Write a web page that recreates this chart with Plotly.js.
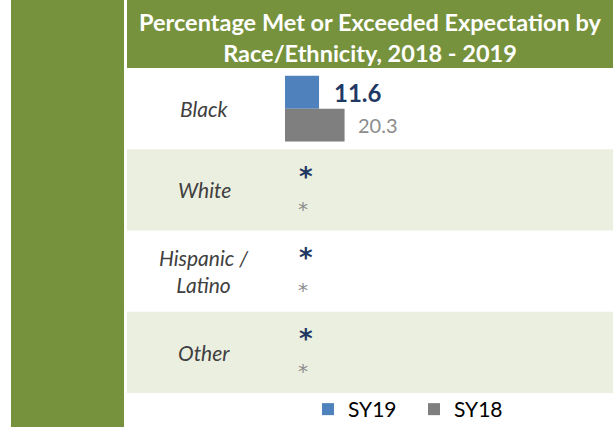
<!DOCTYPE html>
<html>
<head>
<meta charset="utf-8">
<script src="https://cdn.plot.ly/plotly-3.0.1.min.js"></script>
<style>html,body{margin:0;padding:0;background:#fff;}#chart{width:613px;height:427px;}</style>
</head>
<body>
<div id="chart"></div>
<script>
// ---- data ----
const categories = ['Black', 'White', 'Hispanic / Latino', 'Other'];
const categoryLabels = ['Black', 'White', 'Hispanic /<br>Latino', 'Other'];
const seriesNames = ['SY19', 'SY18'];
const sy19 = [11.6, null, null, null];
const sy18 = [20.3, null, null, null];
const sy19Labels = ['11.6', '*', '*', '*'];
const sy18Labels = ['20.3', '*', '*', '*'];
const titleText = 'Percentage Met or Exceeded Expectation by<br>Race/Ethnicity, 2018 - 2019';

// ---- style ----
const W = 613, H = 427;
const plotL = 285, plotR = 613, plotT = 68, plotB = 393;
const pw = plotR - plotL, ph = plotB - plotT;
const px = v => (v - plotL) / pw;     // pixel x -> paper x
const py = v => (plotB - v) / ph;     // pixel y -> paper y
const green = '#76923C', band = '#EBEFE0', blue = '#4F81BD', gray = '#7F7F7F';
const navy = '#1F3864', grayText = '#8C8C8C', labelColor = '#404040';
const FONT = 'Lato, "Open Sans", sans-serif';
const STAR_FONT = '"DejaVu Sans", sans-serif';

const traces = [
  {type: 'bar', orientation: 'h', name: seriesNames[0], y: categories, x: sy19,
   marker: {color: blue}, hoverinfo: 'skip'},
  {type: 'bar', orientation: 'h', name: seriesNames[1], y: categories, x: sy18,
   marker: {color: gray}, hoverinfo: 'skip'}
];

const shapes = [
  // left green strip
  {type: 'rect', xref: 'paper', yref: 'paper', x0: px(11), x1: px(124), y0: py(427), y1: py(0),
   fillcolor: green, line: {width: 0}, layer: 'below'},
  // title banner
  {type: 'rect', xref: 'paper', yref: 'paper', x0: px(127), x1: 1, y0: 1, y1: py(0),
   fillcolor: green, line: {width: 0}, layer: 'below'}
];
// alternating bands on rows 2 and 4
categories.forEach((c, i) => {
  if (i % 2 === 1) {
    shapes.push({type: 'rect', xref: 'paper', yref: 'y', x0: px(127), x1: 1, y0: i - 0.5, y1: i + 0.5,
      fillcolor: band, line: {width: 0}, layer: 'below'});
  }
});

const annotations = [];
categories.forEach((c, i) => {
  annotations.push({xref: 'paper', yref: 'y', x: px(204), y: c, text: categoryLabels[i],
    showarrow: false, xanchor: 'center', yanchor: 'middle', align: 'center',
    font: {family: FONT, size: 21, color: labelColor, style: 'italic'}});
  const s19 = sy19[i] == null;
  const s18 = sy18[i] == null;
  annotations.push({xref: 'x', yref: 'y', x: s19 ? 0 : sy19[i], y: c, text: sy19Labels[i],
    showarrow: false, xanchor: 'left', yanchor: 'middle', xshift: s19 ? 12 : 13, yshift: s19 ? 13 : 16.5,
    font: {family: s19 ? STAR_FONT : FONT, size: s19 ? 26 : 24, color: navy, weight: 'bold'}});
  annotations.push({xref: 'x', yref: 'y', x: s18 ? 0 : sy18[i], y: c, text: sy18Labels[i],
    showarrow: false, xanchor: 'left', yanchor: 'middle', xshift: 11, yshift: s18 ? -19 : -16.5,
    font: {family: s18 ? STAR_FONT : FONT, size: s18 ? 20 : 20, color: grayText}});
});

const layout = {
  width: W, height: H,
  margin: {l: plotL, r: W - plotR, t: plotT, b: H - plotB, pad: 0, autoexpand: false},
  paper_bgcolor: '#ffffff', plot_bgcolor: 'rgba(0,0,0,0)',
  font: {family: FONT, color: '#000'},
  title: {text: titleText, xref: 'paper', x: px(370), xanchor: 'center',
    yref: 'container', y: 1 - 31 / H, yanchor: 'middle',
    font: {family: FONT, size: 23.5, color: '#ffffff', weight: 'bold'}},
  barmode: 'group', bargap: 0.19, bargroupgap: 0,
  xaxis: {range: [0, pw / 2.935], visible: false, fixedrange: true},
  yaxis: {type: 'category', categoryorder: 'array', categoryarray: categories,
    autorange: 'reversed', showticklabels: false, showgrid: false, zeroline: false,
    showline: false, ticks: '', fixedrange: true},
  showlegend: true,
  legend: {orientation: 'h', x: px(308), xanchor: 'left', yref: 'container', y: (H - 389) / H, yanchor: 'top',
    font: {family: FONT, size: 21, color: '#000'}, bgcolor: 'rgba(0,0,0,0)',
    entrywidthmode: 'pixels', entrywidth: 61, traceorder: 'normal'},
  shapes: shapes,
  annotations: annotations,
  hovermode: false
};

Plotly.newPlot('chart', traces, layout, {displayModeBar: false, staticPlot: true});
</script>
</body>
</html>
